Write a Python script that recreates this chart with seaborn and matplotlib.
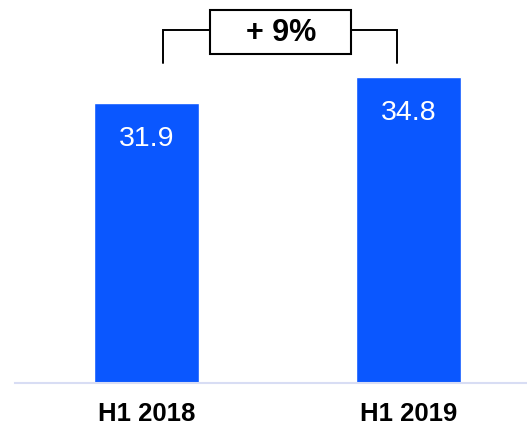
import matplotlib
matplotlib.use("Agg")
import matplotlib.pyplot as plt
import matplotlib.patches as mpatches
import seaborn as sns
import pandas as pd

# chart data
periods = ["H1 2018", "H1 2019"]
values = [31.9, 34.8]
growth_label = "+ 9%"

bar_color = "#0A57FF"
axis_color = "#D8DDF4"

sns.set_style("white")
plt.rcParams["font.family"] = ["Liberation Sans", "DejaVu Sans"]
plt.rcParams["text.color"] = "black"
plt.rcParams["xtick.color"] = "black"

df = pd.DataFrame({"period": periods, "value": values})

fig = plt.figure(figsize=(5.27, 4.26), dpi=100)
ax = fig.add_axes([0.0285, 0.1009, 0.9715, 0.899])

sns.barplot(data=df, x="period", y="value", color=bar_color,
            saturation=1, width=0.4, ax=ax)

ax.set_xlim(-0.5, 1.45)
ax.set_ylim(0, 43.6)

# value labels inside bars
for i, v in enumerate(values):
    ax.text(i, v - 4.9, f"{v:.1f}", ha="center", va="baseline",
            color="white", fontsize=20.5)

# growth bracket
y_low, y_top = 36.4, 40.2
x_l, x_r = 0.065, 0.956
box_l, box_r = 0.244, 0.781
box_b, box_t = 37.45, 42.5
ax.plot([x_l, x_l, box_l], [y_low, y_top, y_top], color="black", lw=1.4,
        solid_joinstyle="miter", clip_on=False)
ax.plot([box_r, x_r, x_r], [y_top, y_top, y_low], color="black", lw=1.4,
        solid_joinstyle="miter", clip_on=False)
ax.add_patch(mpatches.Rectangle((box_l, box_b), box_r - box_l, box_t - box_b,
                                facecolor="white", edgecolor="black", lw=1.5,
                                clip_on=False))
ax.text((box_l + box_r) / 2, (box_b + box_t) / 2 - 0.1, growth_label,
        ha="center", va="center", fontsize=22, fontweight="bold",
        color="black")

# axes styling
sns.despine(ax=ax, left=True)
ax.spines["bottom"].set_color(axis_color)
ax.spines["bottom"].set_linewidth(1.5)
ax.set_yticks([])
ax.set_xlabel("")
ax.set_ylabel("")
ax.tick_params(axis="x", length=0, pad=14, labelsize=18.5, labelcolor="black")
for lbl in ax.get_xticklabels():
    lbl.set_fontweight("bold")

fig.savefig("out.png", dpi=100)
